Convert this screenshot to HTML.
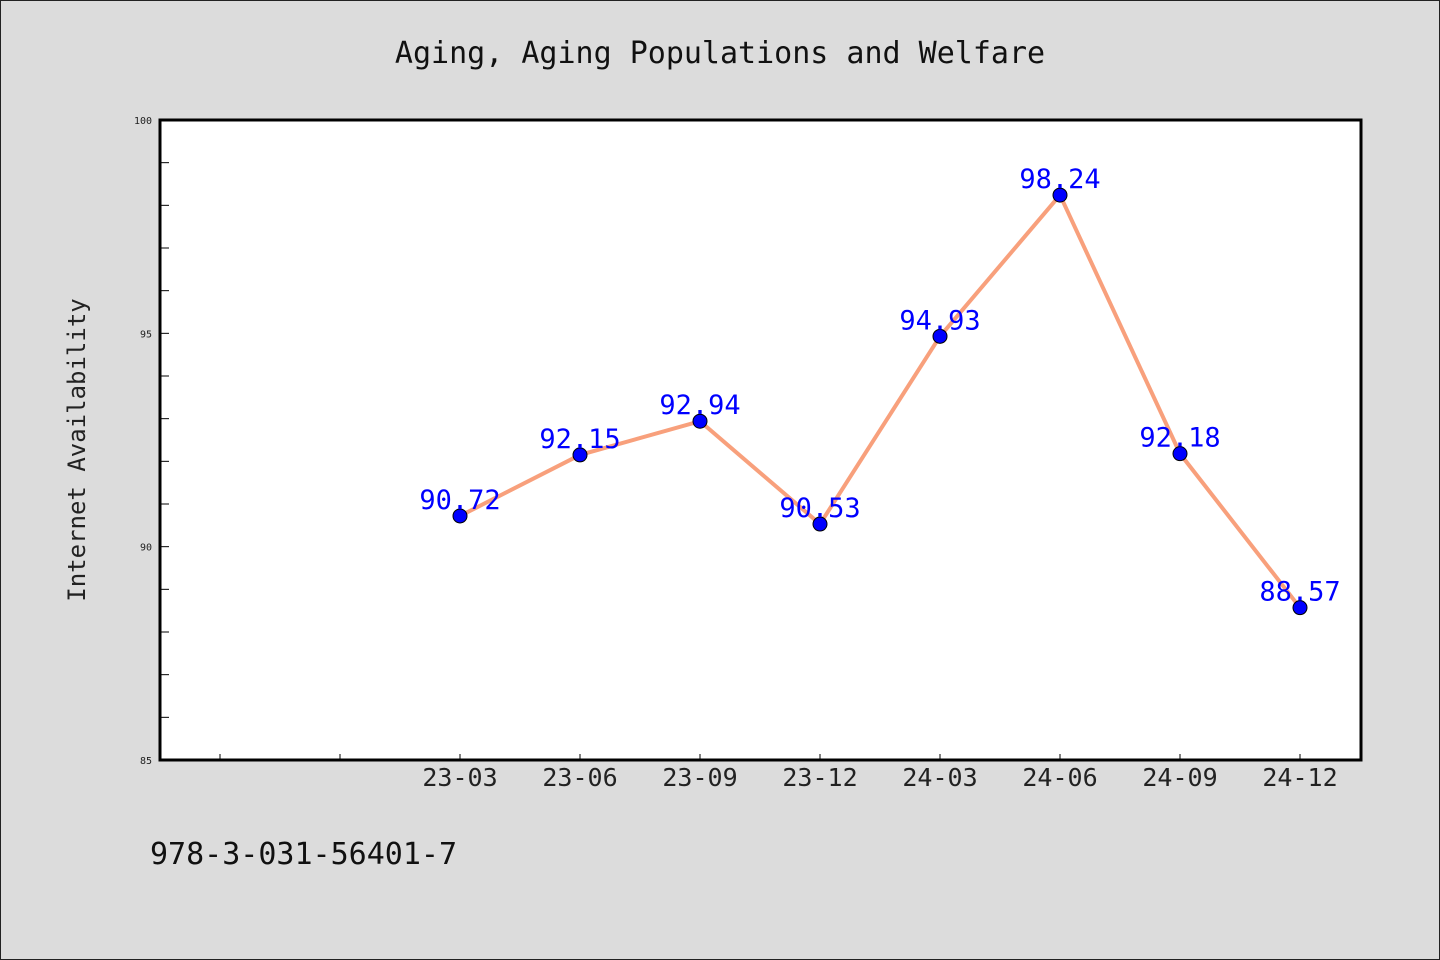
<!DOCTYPE html>
<html><head><meta charset="utf-8"><style>
html,body{margin:0;padding:0;background:#dcdcdc;}
svg{display:block;font-family:"WenQuanYi Zen Hei Mono","DejaVu Sans Mono","Liberation Mono",monospace;}
</style></head><body>
<svg width="1440" height="960" viewBox="0 0 1440 960">
<rect x="0.5" y="0.5" width="1439" height="959" fill="#dcdcdc" stroke="#222"/>
<text x="720" y="63" text-anchor="middle" font-size="30" fill="#111">Aging, Aging Populations and Welfare</text>
<rect x="160" y="120" width="1201" height="640" fill="#fff"/>
<g id="axes"></g>
<g id="marks"></g>
<rect x="160" y="120" width="1201" height="640" fill="none" stroke="#000" stroke-width="3"/>
<text transform="translate(85,450) rotate(-90)" text-anchor="middle" font-size="24" fill="#222">Internet Availability</text>
<text x="150" y="864" font-size="30" fill="#111">978-3-031-56401-7</text>
</svg>
<script>
const categories=["","","23-03","23-06","23-09","23-12","24-03","24-06","24-09","24-12"];
const values=[null,null,90.72,92.15,92.94,90.53,94.93,98.24,92.18,88.57];
const yTicks=[85,90,95,100];
const NS="http://www.w3.org/2000/svg";
const x0=160,x1=1361,yTop=120,yBot=760,yMin=85,yMax=100;
function xs(i){return 220+i*120;}
function ys(v){return yBot-(v-yMin)/(yMax-yMin)*(yBot-yTop);}
function mk(t,a,p){const e=document.createElementNS(NS,t);for(const k in a)e.setAttribute(k,a[k]);p.appendChild(e);return e;}
const ax=document.getElementById('axes'),mg=document.getElementById('marks');
for(let v=yMin+1;v<yMax;v++){
 const t=mk('line',{x1:x0,x2:x0+9,y1:ys(v),y2:ys(v),stroke:'#000','stroke-width':1},ax);
 
 
}
yTicks.forEach(v=>{
 const t=mk('text',{x:x0-8,y:ys(v)+4,'text-anchor':'end','font-size':10,fill:'#222'},ax);
 t.textContent=v;
 
 
});
categories.forEach((c,i)=>{
 const t=mk('line',{x1:xs(i),x2:xs(i),y1:yBot,y2:yBot-6,stroke:'#000','stroke-width':1},ax);
 
 
 if(c){
  const l=mk('text',{x:xs(i),y:yBot+26,'text-anchor':'middle','font-size':25,fill:'#222'},ax);
  l.textContent=c;
  
  
 }
});
const pts=[];values.forEach((v,i)=>{if(v!=null)pts.push([xs(i),ys(v),v]);});
const line=mk('polyline',{points:pts.map(p=>p[0]+','+p[1]).join(' '),fill:'none',stroke:'#f8a07c','stroke-width':4},mg);


pts.forEach(p=>{
 const c=mk('circle',{cx:p[0],cy:p[1],r:7,fill:'#0000ff',stroke:'#000','stroke-width':1},mg);
 
 
 const t=mk('text',{x:p[0],y:p[1]-7,'text-anchor':'middle','font-size':27,fill:'#0000ff'},mg);
 t.textContent=p[2].toFixed(2);
 
 
});
</script>
</body></html>
